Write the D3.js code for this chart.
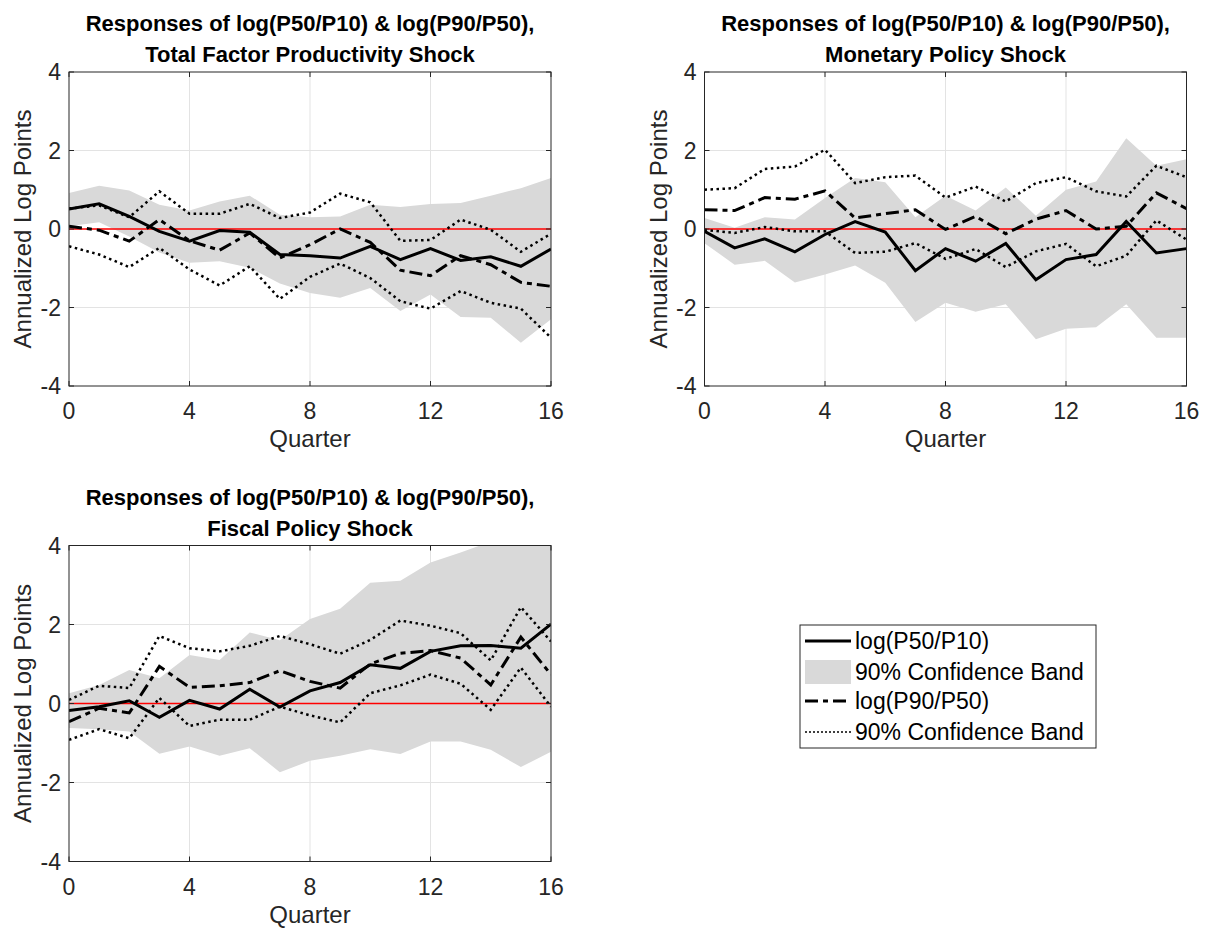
<!DOCTYPE html>
<html>
<head>
<meta charset="utf-8">
<script src="https://cdn.jsdelivr.net/npm/d3@7"></script>
<style>
  body { margin: 0; background: #fff; }
  svg { display: block; font-family: "Liberation Sans", Arial, sans-serif; }
</style>
</head>
<body>
<svg id="chart" width="1211" height="928"></svg>
<script>
// quarters after the shock
const quarters = d3.range(0, 17);

// Total factor productivity shock
const tfpP5010 = [0.51, 0.64, 0.32, -0.06, -0.31, -0.04, -0.08, -0.65, -0.68, -0.74, -0.44, -0.78, -0.5, -0.8, -0.71, -0.95, -0.51];
const tfpBandLo = [0.07, 0.17, -0.19, -0.6, -0.86, -0.82, -0.99, -1.39, -1.63, -1.75, -1.5, -2.09, -1.67, -2.24, -2.26, -2.9, -2.3];
const tfpBandHi = [0.92, 1.1, 0.98, 0.62, 0.47, 0.7, 0.85, 0.36, 0.3, 0.32, 0.62, 0.56, 0.64, 0.66, 0.85, 1.04, 1.3];
const tfpP9050 = [0.07, -0.03, -0.31, 0.24, -0.3, -0.54, -0.1, -0.74, -0.4, 0.0, -0.34, -1.05, -1.19, -0.68, -0.91, -1.36, -1.46];
const tfpDotLo = [-0.44, -0.65, -0.97, -0.48, -1.03, -1.44, -0.95, -1.78, -1.22, -0.88, -1.25, -1.84, -2.03, -1.58, -1.88, -2.03, -2.77];
const tfpDotHi = [0.52, 0.6, 0.3, 0.96, 0.39, 0.39, 0.64, 0.28, 0.42, 0.9, 0.68, -0.3, -0.28, 0.24, -0.02, -0.58, -0.12];

// Monetary policy shock
const monP5010 = [-0.06, -0.48, -0.25, -0.58, -0.14, 0.19, -0.08, -1.06, -0.5, -0.82, -0.37, -1.29, -0.78, -0.65, 0.19, -0.61, -0.5];
const monBandLo = [-0.36, -0.91, -0.81, -1.36, -1.16, -0.93, -1.37, -2.37, -1.88, -2.11, -1.92, -2.81, -2.54, -2.5, -1.92, -2.77, -2.77];
const monBandHi = [0.28, 0.03, 0.3, 0.24, 0.79, 1.3, 1.19, 0.3, 0.85, 0.47, 1.06, 0.34, 1.0, 1.21, 2.31, 1.61, 1.78];
const monP9050 = [0.49, 0.47, 0.8, 0.76, 0.97, 0.28, 0.39, 0.49, -0.01, 0.32, -0.12, 0.25, 0.47, 0.0, 0.07, 0.92, 0.52];
const monDotLo = [-0.02, -0.1, 0.05, -0.06, -0.06, -0.61, -0.58, -0.36, -0.76, -0.51, -0.97, -0.57, -0.38, -0.95, -0.68, 0.22, -0.27];
const monDotHi = [1.0, 1.04, 1.53, 1.59, 2.02, 1.17, 1.32, 1.36, 0.8, 1.08, 0.7, 1.17, 1.32, 0.96, 0.83, 1.61, 1.32];

// Fiscal policy shock
const fisP5010 = [-0.18, -0.08, 0.07, -0.35, 0.08, -0.14, 0.36, -0.09, 0.32, 0.53, 0.98, 0.89, 1.32, 1.46, 1.47, 1.4, 2.01];
const fisBandLo = [-0.62, -0.65, -0.71, -1.27, -1.09, -1.32, -1.13, -1.74, -1.45, -1.32, -1.16, -1.28, -0.96, -0.96, -1.17, -1.61, -1.22];
const fisBandHi = [0.26, 0.47, 0.85, 0.64, 1.23, 1.1, 1.8, 1.6, 2.14, 2.4, 3.06, 3.11, 3.57, 3.82, 4.1, 4.25, 4.35];
const fisP9050 = [-0.46, -0.12, -0.24, 0.94, 0.41, 0.45, 0.53, 0.83, 0.56, 0.39, 1.0, 1.27, 1.34, 1.15, 0.47, 1.68, 0.73];
const fisDotLo = [-0.92, -0.65, -0.88, 0.14, -0.57, -0.41, -0.41, -0.08, -0.3, -0.48, 0.26, 0.46, 0.73, 0.5, -0.16, 0.91, -0.08];
const fisDotHi = [0.09, 0.45, 0.39, 1.71, 1.4, 1.32, 1.46, 1.71, 1.5, 1.26, 1.61, 2.1, 1.97, 1.78, 1.09, 2.44, 1.57];

const xTicks = [0, 4, 8, 12, 16];
const yTicks = [-4, -2, 0, 2, 4];
const titleLine1 = "Responses of log(P50/P10) & log(P90/P50),";
const legendLabels = ["log(P50/P10)", "90% Confidence Band", "log(P90/P50)", "90% Confidence Band"];

const axisColor = "#262626";
const bandColor = "#d9d9d9";
const styles = {
    solid: { width: 3, dash: null },
    dashdot: { width: 3, dash: "13,5,5,5" },
    dotted: { width: 2.5, dash: "2.5,3.5" }
};

const svg = d3.select("#chart");

function drawPanel(cfg, d) {
    const g = svg.append("g").attr("transform", `translate(${cfg.left},${cfg.top})`);

    const x = d3.scaleLinear().domain([0, 16]).range([0, cfg.width]);
    const y = d3.scaleLinear().domain([-4, 4]).range([cfg.height, 0]);

    const clipId = "clip-" + cfg.id;
    g.append("clipPath").attr("id", clipId)
        .append("rect").attr("width", cfg.width).attr("height", cfg.height);

    // grid
    g.selectAll(".gx").data(xTicks.slice(1, -1)).join("line")
        .attr("x1", v => x(v)).attr("x2", v => x(v))
        .attr("y1", 0).attr("y2", cfg.height)
        .attr("stroke", "#e3e3e3").attr("stroke-width", 1);
    g.selectAll(".gy").data(yTicks.slice(1, -1)).join("line")
        .attr("y1", v => y(v)).attr("y2", v => y(v))
        .attr("x1", 0).attr("x2", cfg.width)
        .attr("stroke", "#e3e3e3").attr("stroke-width", 1);

    const plot = g.append("g").attr("clip-path", `url(#${clipId})`);

    const area = d3.area()
        .x((_, i) => x(quarters[i]))
        .y0((_, i) => y(d.bandLo[i]))
        .y1((_, i) => y(d.bandHi[i]));
    plot.append("path").datum(d.bandLo).attr("d", area).attr("fill", bandColor);

    plot.append("line")
        .attr("x1", 0).attr("x2", cfg.width)
        .attr("y1", y(0)).attr("y2", y(0))
        .attr("stroke", "#ff0000").attr("stroke-width", 1.5);

    const line = d3.line().x((_, i) => x(quarters[i])).y(v => y(v));
    const series = [
        [d.dotHi, styles.dotted],
        [d.dotLo, styles.dotted],
        [d.p9050, styles.dashdot],
        [d.p5010, styles.solid]
    ];
    series.forEach(([vals, st]) => {
        plot.append("path").datum(vals)
            .attr("d", line)
            .attr("fill", "none")
            .attr("stroke", "#000")
            .attr("stroke-width", st.width)
            .attr("stroke-dasharray", st.dash)
            .attr("stroke-linejoin", "miter");
    });

    // axes box and inner ticks
    g.append("rect").attr("width", cfg.width).attr("height", cfg.height)
        .attr("fill", "none").attr("stroke", axisColor).attr("stroke-width", 1);
    const tk = 5;
    xTicks.forEach(v => {
        g.append("line").attr("x1", x(v)).attr("x2", x(v)).attr("y1", cfg.height).attr("y2", cfg.height - tk)
            .attr("stroke", axisColor);
        g.append("line").attr("x1", x(v)).attr("x2", x(v)).attr("y1", 0).attr("y2", tk)
            .attr("stroke", axisColor);
    });
    yTicks.forEach(v => {
        g.append("line").attr("y1", y(v)).attr("y2", y(v)).attr("x1", 0).attr("x2", tk)
            .attr("stroke", axisColor);
        g.append("line").attr("y1", y(v)).attr("y2", y(v)).attr("x1", cfg.width).attr("x2", cfg.width - tk)
            .attr("stroke", axisColor);
    });

    g.selectAll(".xl").data(xTicks).join("text")
        .attr("x", v => x(v)).attr("y", cfg.height + 33)
        .attr("text-anchor", "middle")
        .attr("fill", axisColor).style("font-size", "23px")
        .text(v => v);
    g.selectAll(".yl").data(yTicks).join("text")
        .attr("x", -8).attr("y", v => y(v) + 8)
        .attr("text-anchor", "end")
        .attr("fill", axisColor).style("font-size", "23px")
        .text(v => v);

    g.append("text")
        .attr("x", cfg.width / 2).attr("y", cfg.height + 61)
        .attr("text-anchor", "middle")
        .attr("fill", axisColor).style("font-size", "24px")
        .text("Quarter");
    g.append("text")
        .attr("transform", `translate(-38,${cfg.height / 2}) rotate(-90)`)
        .attr("text-anchor", "middle")
        .attr("fill", axisColor).style("font-size", "24px")
        .text("Annualized Log Points");

    const title = g.append("text")
        .attr("text-anchor", "middle")
        .attr("fill", "#000")
        .style("font-size", "22px").style("font-weight", "bold");
    title.append("tspan").attr("x", cfg.width / 2).attr("y", -41).text(titleLine1);
    title.append("tspan").attr("x", cfg.width / 2).attr("y", -10).text(cfg.title);
}

drawPanel({ id: "tfp", left: 69, top: 72, width: 482, height: 314, title: "Total Factor Productivity Shock" },
    { p5010: tfpP5010, bandLo: tfpBandLo, bandHi: tfpBandHi, p9050: tfpP9050, dotLo: tfpDotLo, dotHi: tfpDotHi });
drawPanel({ id: "mon", left: 704.5, top: 72, width: 482, height: 314, title: "Monetary Policy Shock" },
    { p5010: monP5010, bandLo: monBandLo, bandHi: monBandHi, p9050: monP9050, dotLo: monDotLo, dotHi: monDotHi });
drawPanel({ id: "fis", left: 69, top: 545.5, width: 482, height: 316, title: "Fiscal Policy Shock" },
    { p5010: fisP5010, bandLo: fisBandLo, bandHi: fisBandHi, p9050: fisP9050, dotLo: fisDotLo, dotHi: fisDotHi });

// legend
const legend = svg.append("g").attr("transform", "translate(800,625)");
legend.append("rect").attr("width", 296).attr("height", 123)
    .attr("fill", "#fff").attr("stroke", axisColor).attr("stroke-width", 1);
const rowY = [16, 47, 76, 107];
const legendStyles = [styles.solid, null, styles.dashdot, styles.dotted];
legendLabels.forEach((lab, i) => {
    const st = legendStyles[i];
    if (st) {
        legend.append("line")
            .attr("x1", 5).attr("x2", 51).attr("y1", rowY[i]).attr("y2", rowY[i])
            .attr("stroke", "#000")
            .attr("stroke-width", i === 3 ? 1.5 : st.width)
            .attr("stroke-dasharray", i === 3 ? "2,2" : st.dash);
    } else {
        legend.append("rect").attr("x", 5).attr("y", rowY[i] - 12).attr("width", 46).attr("height", 24)
            .attr("fill", bandColor);
    }
    legend.append("text")
        .attr("x", 55).attr("y", rowY[i] + 8)
        .attr("fill", "#000").style("font-size", "23px")
        .text(lab);
});
</script>
</body>
</html>
